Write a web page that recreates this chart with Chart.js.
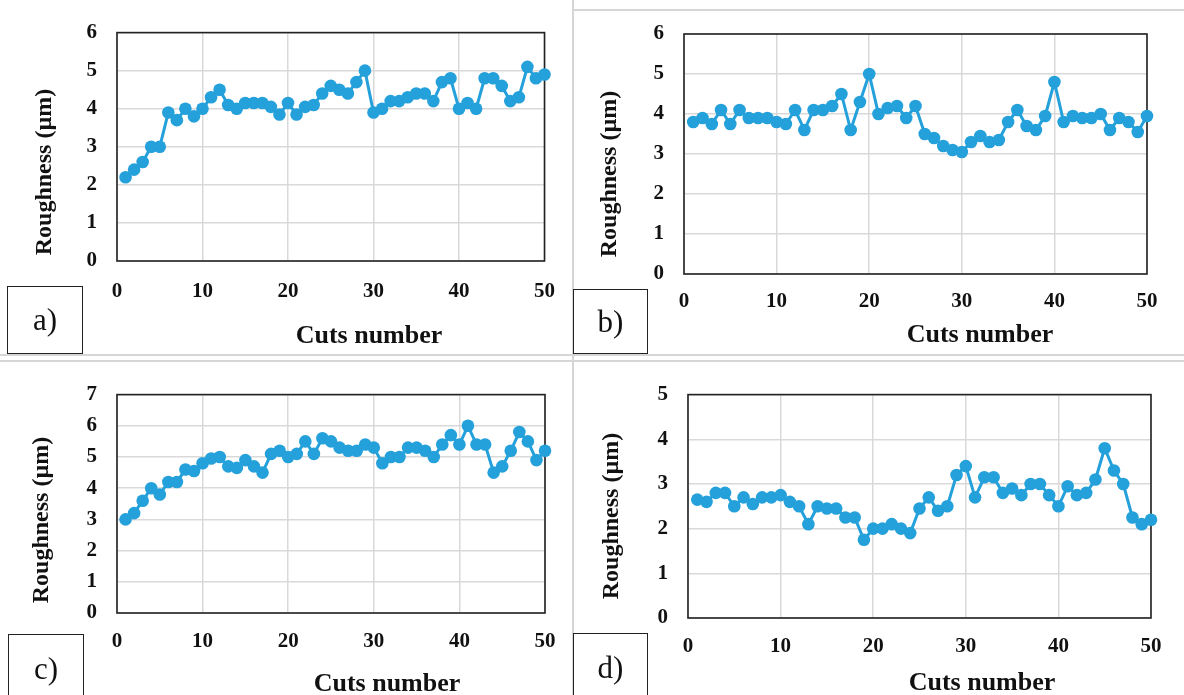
<!DOCTYPE html>
<html>
<head>
<meta charset="utf-8">
<script src="https://cdn.jsdelivr.net/npm/chart.js@4.4.1/dist/chart.umd.min.js"></script>
<style>
    body { margin:0; background:#fff; }
    #page { position:relative; width:1184px; height:695px; overflow:hidden; background:#fff; font-family:"Liberation Serif", serif; }
    canvas { position:absolute; }
    .rule { position:absolute; background:#d6d6d6; }
    .xtitle { position:absolute; width:300px; text-align:center; font-weight:bold; font-size:26px; line-height:30px; color:#111; }
    .tag { position:absolute; box-sizing:border-box; border:1.5px solid #222; font-size:31px; display:flex; align-items:center; justify-content:center; color:#111; }
</style>
</head>
<body>
<div id="page">
    <div class="rule" style="left:572px; top:0; width:2px; height:695px"></div>
    <div class="rule" style="left:573px; top:9px; width:611px; height:2px"></div>
    <div class="rule" style="left:0; top:354px; width:1184px; height:2px"></div>
    <div class="rule" style="left:0; top:360px; width:1184px; height:2px"></div>

    <canvas id="chartA" width="573" height="355" style="left:0; top:0"></canvas>
    <canvas id="chartB" width="611" height="355" style="left:573px; top:0"></canvas>
    <canvas id="chartC" width="573" height="333" style="left:0; top:362px"></canvas>
    <canvas id="chartD" width="611" height="333" style="left:573px; top:362px"></canvas>

    <div class="xtitle" style="left:219px; top:320px">Cuts number</div>
    <div class="xtitle" style="left:830px; top:319px">Cuts number</div>
    <div class="xtitle" style="left:237px; top:668px">Cuts number</div>
    <div class="xtitle" style="left:832px; top:667px">Cuts number</div>

    <div class="tag" style="left:7px; top:286px; width:76px; height:68px">a)</div>
    <div class="tag" style="left:573px; top:289px; width:75px; height:65px">b)</div>
    <div class="tag" style="left:8px; top:634px; width:76px; height:70px">c)</div>
    <div class="tag" style="left:573px; top:633px; width:75px; height:70px">d)</div>
</div>

<script>
// Cut numbers (x values)
const cuts = [1,2,3,4,5,6,7,8,9,10,11,12,13,14,15,16,17,18,19,20,21,22,23,24,25,
    26,27,28,29,30,31,32,33,34,35,36,37,38,39,40,41,42,43,44,45,46,47,48,49,50]

// Roughness (µm)
const roughA = [2.2,2.4,2.6,3.0,3.0,3.9,3.7,4.0,3.8,4.0, 4.3,4.5,4.1,4.0,4.15,4.15,4.15,4.05,3.85,4.15,
    3.85,4.05,4.1,4.4,4.6,4.5,4.4,4.7,5.0,3.9, 4.0,4.2,4.2,4.3,4.4,4.4,4.2,4.7,4.8,4.0,
    4.15,4.0,4.8,4.8,4.6,4.2,4.3,5.1,4.8,4.9]
const roughB = [3.8,3.9,3.75,4.1,3.75,4.1,3.9,3.9,3.9,3.8, 3.75,4.1,3.6,4.1,4.1,4.2,4.5,3.6,4.3,5.0,
    4.0,4.15,4.2,3.9,4.2,3.5,3.4,3.2,3.1,3.05, 3.3,3.45,3.3,3.35,3.8,4.1,3.7,3.6,3.95,4.8,
    3.8,3.95,3.9,3.9,4.0,3.6,3.9,3.8,3.55,3.95]
const roughC = [3.0,3.2,3.6,4.0,3.8,4.2,4.2,4.6,4.55,4.8, 4.95,5.0,4.7,4.65,4.9,4.7,4.5,5.1,5.2,5.0,
    5.1,5.5,5.1,5.6,5.5,5.3,5.2,5.2,5.4,5.3, 4.8,5.0,5.0,5.3,5.3,5.2,5.0,5.4,5.7,5.4,
    6.0,5.4,5.4,4.5,4.7,5.2,5.8,5.5,4.9,5.2]
const roughD = [2.65,2.6,2.8,2.8,2.5,2.7,2.55,2.7,2.7,2.75, 2.6,2.5,2.1,2.5,2.45,2.45,2.25,2.25,1.75,2.0,
    2.0,2.1,2.0,1.9,2.45,2.7,2.4,2.5,3.2,3.4, 2.7,3.15,3.15,2.8,2.9,2.75,3.0,3.0,2.75,2.5,
    2.95,2.75,2.8,3.1,3.8,3.3,3.0,2.25,2.1,2.2]

// y axis max of each panel
const yMaxA = 6, yMaxB = 6, yMaxC = 7, yMaxD = 5

const blue = "#24a0da"
const tickFont = { family:"Liberation Serif", size:21, weight:"bold" }

// black frame around the plot area
const frame = {
    id:"frame",
    beforeDatasetsDraw(chart){
        const { ctx, chartArea:a } = chart
        ctx.save()
        ctx.strokeStyle = "#222"
        ctx.lineWidth = 1.6
        ctx.strokeRect(a.left, a.top, a.right - a.left, a.bottom - a.top)
        ctx.restore()
    }
}

// rotated y axis title, centred where the original puts it
const yTitle = {
    id:"yTitle",
    afterDraw(chart, args, opts){
        const ctx = chart.ctx
        ctx.save()
        ctx.translate(opts.x, opts.y)
        ctx.rotate(-Math.PI/2)
        ctx.font = "bold 24px 'Liberation Serif'"
        ctx.fillStyle = "#111"
        ctx.textAlign = "center"
        ctx.textBaseline = "middle"
        ctx.fillText(opts.text, 0, 0)
        ctx.restore()
    }
}

function makeChart(id, values, yMax, box){
    const points = cuts.map((c,i) => ({ x:c, y:values[i] }))
    return new Chart(document.getElementById(id), {
        type:"line",
        data:{ datasets:[{
            data:points, borderColor:blue, backgroundColor:blue, borderWidth:3,
            pointRadius:6.3, pointBorderWidth:0, pointHoverRadius:6.3, clip:false, tension:0
        }]},
        options:{
            responsive:false, animation:false,
            layout:{ padding:{ top:box.top, right:box.right, left:0, bottom:0 } },
            plugins:{
                legend:{ display:false }, tooltip:{ enabled:false },
                yTitle:{ text:"Roughness (µm)", x:box.tx, y:box.ty }
            },
            scales:{
                x:{
                    type:"linear", min:0, max:50,
                    afterFit(s){ s.height = box.xh },
                    grid:{ color:"#d9d9d9", lineWidth:1.5, drawTicks:false },
                    border:{ display:false },
                    ticks:{ stepSize:10, maxRotation:0, autoSkip:false, padding:box.xpad, font:tickFont, color:"#111" }
                },
                y:{
                    min:0, max:yMax,
                    afterFit(s){ s.width = box.left },
                    grid:{ color:"#d9d9d9", lineWidth:1.5, drawTicks:false },
                    border:{ display:false },
                    ticks:{ stepSize:1, padding:20, font:tickFont, color:"#111" }
                }
            }
        },
        plugins:[frame, yTitle]
    })
}

makeChart("chartA", roughA, yMaxA, { left:117, top:27, right:28, xh:94, xpad:18, tx:45, ty:172 })
makeChart("chartB", roughB, yMaxB, { left:111, top:34, right:37, xh:81, xpad:15, tx:37, ty:174 })
makeChart("chartC", roughC, yMaxC, { left:117, top:19, right:28, xh:82, xpad:16, tx:42, ty:158 })
makeChart("chartD", roughD, yMaxD, { left:115, top:24, right:33, xh:77, xpad:16, tx:39, ty:154 })
</script>
</body>
</html>
